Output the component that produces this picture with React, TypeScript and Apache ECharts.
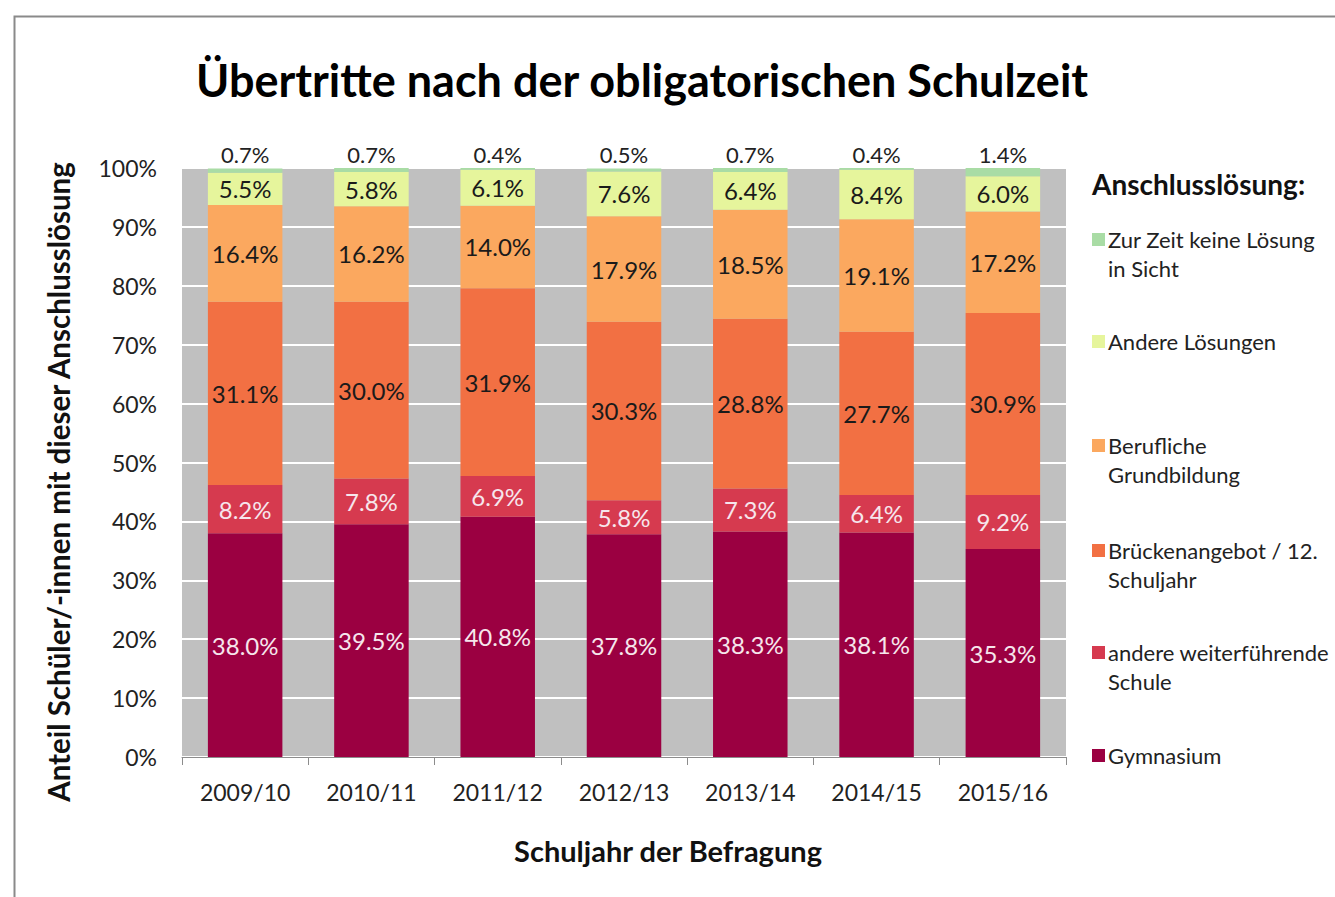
import React, { useEffect, useRef } from "react";
import * as echarts from "echarts";

const categories = ["2009/10", "2010/11", "2011/12", "2012/13", "2013/14", "2014/15", "2015/16"];

const gymnasium = [38.0, 39.5, 40.8, 37.8, 38.3, 38.1, 35.3];
const andereSchule = [8.2, 7.8, 6.9, 5.8, 7.3, 6.4, 9.2];
const brueckenangebot = [31.1, 30.0, 31.9, 30.3, 28.8, 27.7, 30.9];
const beruflich = [16.4, 16.2, 14.0, 17.9, 18.5, 19.1, 17.2];
const andereLoesungen = [5.5, 5.8, 6.1, 7.6, 6.4, 8.4, 6.0];
const keineLoesung = [0.7, 0.7, 0.4, 0.5, 0.7, 0.4, 1.4];

const seriesNames = [
  "Gymnasium",
  "andere weiterführende\nSchule",
  "Brückenangebot / 12.\nSchuljahr",
  "Berufliche\nGrundbildung",
  "Andere Lösungen",
  "Zur Zeit keine Lösung\nin Sicht",
];
const seriesData = [gymnasium, andereSchule, brueckenangebot, beruflich, andereLoesungen, keineLoesung];
const seriesColors = ["#9b0041", "#d63a4f", "#f27043", "#fba85f", "#e6f59c", "#a9dca5"];
const labelColors = ["#f6e6ec", "#f6e6ec", "#1a1a1a", "#1a1a1a", "#1a1a1a", "#1a1a1a"];

const FONT = "Lato, 'Open Sans', sans-serif";

export default function App() {
  const ref = useRef<HTMLDivElement>(null);
  useEffect(() => {
    document.body.style.margin = "0";
    const chart = echarts.init(ref.current!, undefined, { renderer: "svg" });

    const series = seriesData.map((d, i) => ({
      name: seriesNames[i],
      type: "bar",
      stack: "total",
      barWidth: "59%",
      data: d,
      itemStyle: { color: seriesColors[i] },
      label: {
        show: true,
        position: i === seriesData.length - 1 ? "top" : "inside",
        distance: 3,
        color: i === seriesData.length - 1 ? "#222" : labelColors[i],
        fontSize: i === seriesData.length - 1 ? 22 : 24,
        fontFamily: FONT,
        formatter: (p: any) => p.value.toFixed(1) + "%",
      },
    }));

    const legendItems: any[] = [];
    const legendYs = [756, 653, 551, 446, 342, 240];
    seriesNames.forEach((n, i) => {
      const y = legendYs[i];
      legendItems.push({
        type: "rect",
        left: 1092,
        top: y - 7,
        shape: { width: 13, height: 13 },
        style: { fill: seriesColors[i] },
      });
      legendItems.push({
        type: "text",
        left: 1108,
        top: y - 15,
        style: {
          text: n,
          fill: "#222",
          font: `22px ${FONT}`,
          lineHeight: 29,
        },
      });
    });

    chart.setOption({
      animation: false,
      backgroundColor: "#fff",
      title: {
        text: "Übertritte nach der obligatorischen Schulzeit",
        left: 637,
        textAlign: "center",
        top: 52,
        textStyle: { fontSize: 45, fontWeight: "bold", color: "#000", fontFamily: FONT },
      },
      grid: {
        left: 182,
        top: 168,
        width: 884,
        height: 589,
        show: true,
        backgroundColor: "#c0c0c0",
        borderWidth: 0,
      },
      xAxis: {
        type: "category",
        data: categories,
        axisLine: { show: true, lineStyle: { color: "#8c8c8c", width: 1 } },
        axisTick: { show: true, length: 8, lineStyle: { color: "#8c8c8c" } },
        axisLabel: { fontSize: 23, color: "#222", margin: 23, fontFamily: FONT },
      },
      yAxis: {
        type: "value",
        min: 0,
        max: 100,
        interval: 10,
        axisLine: { show: false },
        axisTick: { show: false },
        axisLabel: { fontSize: 23, color: "#222", margin: 25, formatter: "{value}%", fontFamily: FONT },
        splitLine: { show: true, lineStyle: { color: "#ffffff", width: 2 } },
      },
      series,
      graphic: [
        {
          type: "rect",
          left: 12,
          top: 14,
          shape: { width: 1340, height: 900 },
          style: { fill: "none", stroke: "#8a8a8a", lineWidth: 2 },
          z: -1,
        },
        {
          type: "text",
          x: 668,
          y: 850,
          style: {
            text: "Schuljahr der Befragung",
            fill: "#111",
            font: `bold 29px ${FONT}`,
            textAlign: "center",
            textVerticalAlign: "middle",
          },
        },
        {
          type: "text",
          x: 58,
          y: 482,
          rotation: Math.PI / 2,
          style: {
            text: "Anteil Schüler/-innen mit dieser Anschlusslösung",
            fill: "#111",
            font: `bold 29.5px ${FONT}`,
            textAlign: "center",
            textVerticalAlign: "middle",
          },
        },
        {
          type: "text",
          left: 1092,
          top: 170,
          style: { text: "Anschlusslösung:", fill: "#111", font: `bold 28px ${FONT}` },
        },
        ...legendItems,
      ],
    });
    return () => chart.dispose();
  }, []);
  return <div ref={ref} style={{ width: 1335, height: 897 }} />;
}
